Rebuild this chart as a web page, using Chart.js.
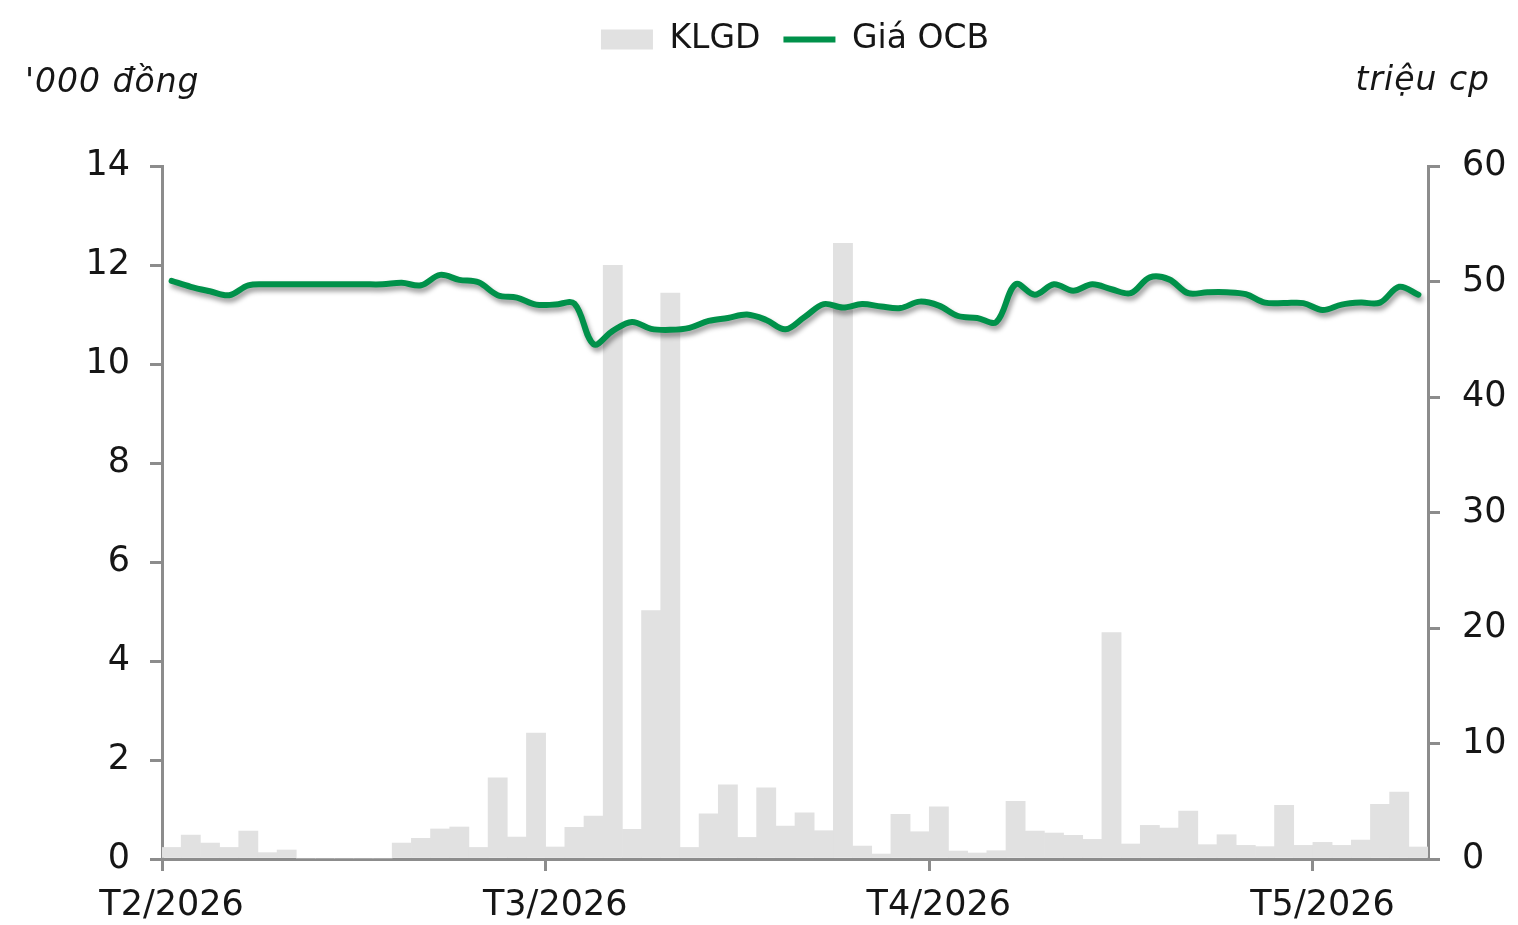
<!DOCTYPE html>
<html>
<head>
<meta charset="utf-8">
<script src="https://cdn.jsdelivr.net/npm/chart.js@4"></script>
<style>
  body { margin: 0; background: #fff; }
  #wrap { width: 1518px; height: 925px; }
</style>
</head>
<body>
<div id="wrap"><canvas id="ocbChart"></canvas></div>
<script>
// Month labels and how many trading sessions fall in each one
const monthLabels = ['T2/2026', 'T3/2026', 'T4/2026', 'T5/2026'];
const daysPerMonth = [20, 20, 20, 6];

// Trading volume, million shares (right axis)
const volume = [
    1.0, 2.07, 1.38, 1.0, 2.42, 0.55, 0.78, 0, 0, 0,
    0, 0, 1.38, 1.79, 2.6, 2.77, 1.0, 7.03, 1.9, 10.9,
    1.04, 2.74, 3.72, 51.4, 2.57, 21.5, 49.0, 1.0, 3.92, 6.43,
    1.87, 6.17, 2.85, 4.0, 2.45, 53.3, 1.12, 0.43, 3.86, 2.36,
    4.52, 0.69, 0.52, 0.72, 4.99, 2.42, 2.25, 2.05, 1.7, 19.6,
    1.3, 2.91, 2.68, 4.15, 1.24, 2.1, 1.18, 1.07, 4.64, 1.18,
    1.44, 1.18, 1.64, 4.73, 5.79, 1.04
];

// OCB close price, '000 VND (left axis)
const price = [
    11.68, 11.56, 11.47, 11.39, 11.59, 11.61, 11.61, 11.61, 11.61, 11.61,
    11.61, 11.61, 11.64, 11.59, 11.8, 11.7, 11.65, 11.39, 11.34, 11.2,
    11.2, 11.22, 10.4, 10.67, 10.85, 10.71, 10.69, 10.73, 10.87, 10.93,
    11.0, 10.89, 10.7, 10.95, 11.21, 11.14, 11.21, 11.16, 11.13, 11.26,
    11.18, 10.97, 10.93, 10.85, 11.61, 11.4, 11.61, 11.48, 11.61, 11.51,
    11.43, 11.75, 11.71, 11.43, 11.45, 11.45, 11.41, 11.24, 11.23, 11.23,
    11.09, 11.2, 11.24, 11.24, 11.56, 11.4
];

// One category per session, tagged with its month
const categories = [];
monthLabels.forEach((m, i) => {
    for (let d = 0; d < daysPerMonth[i]; d++) categories.push(m);
});

const isMonthStart = i => i === 0 || (i > 0 && i < categories.length && categories[i] !== categories[i - 1]);

const axisGrey = '#8c8c8c';
const textColor = '#161616';
const fontFamily = '"DejaVu Sans", sans-serif';

// Soft drop shadow under the price line
const lineShadow = {
    id: 'lineShadow',
    beforeDatasetDraw(chart, args) {
        if (args.meta.type !== 'line') return;
        const ctx = chart.ctx;
        ctx.save();
        ctx.shadowColor = 'rgba(0, 0, 0, 0.4)';
        ctx.shadowBlur = 5;
        ctx.shadowOffsetX = 2;
        ctx.shadowOffsetY = 4;
    },
    afterDatasetDraw(chart, args) {
        if (args.meta.type !== 'line') return;
        chart.ctx.restore();
    }
};

// Unit labels above each axis
const unitTitles = {
    id: 'unitTitles',
    afterDraw(chart) {
        const ctx = chart.ctx;
        ctx.save();
        ctx.font = 'italic 33px ' + fontFamily;
        ctx.letterSpacing = '1px';
        ctx.fillStyle = textColor;
        ctx.textBaseline = 'alphabetic';
        ctx.textAlign = 'left';
        ctx.fillText("'000 đồng", 25, 92);
        ctx.textAlign = 'right';
        ctx.fillText('triệu cp', 1490, 90);
        ctx.restore();
    }
};

const ctx = document.getElementById('ocbChart').getContext('2d');
const ocbChart = new Chart(ctx, {
    data: {
        labels: categories,
        datasets: [{
            type: 'bar',
            label: 'KLGD',
            data: volume,
            yAxisID: 'y1',
            backgroundColor: '#e1e1e1',
            borderWidth: 0,
            barPercentage: 1.0,
            categoryPercentage: 1.0,
            pointStyle: 'rect',
            order: 1
        }, {
            type: 'line',
            label: 'Giá OCB',
            data: price,
            yAxisID: 'y',
            borderColor: '#00914a',
            backgroundColor: '#00914a',
            borderWidth: 6,
            borderCapStyle: 'round',
            pointRadius: 0,
            pointStyle: 'line',
            tension: 0.35,
            order: 0
        }]
    },
    options: {
        responsive: true,
        maintainAspectRatio: false,
        animation: false,
        layout: { padding: 0 },
        plugins: {
            tooltip: { enabled: false },
            legend: {
                position: 'top',
                fullSize: false,
                labels: {
                    usePointStyle: true,
                    pointStyleWidth: 52,
                    boxHeight: 20,
                    padding: 23,
                    color: textColor,
                    font: { family: fontFamily, size: 33 },
                    sort: (a, b) => a.datasetIndex - b.datasetIndex
                }
            },
            // empty spacer between legend and plot
            subtitle: {
                display: true,
                text: '',
                weight: 500,
                fullSize: false,
                font: { size: 10 },
                padding: { top: 88, bottom: 0 }
            }
        },
        scales: {
            x: {
                type: 'category',
                offset: true,
                grid: {
                    offset: true,
                    drawOnChartArea: false,
                    tickLength: 12,
                    lineWidth: 3,
                    color: c => isMonthStart(c.index) ? axisGrey : 'rgba(0,0,0,0)'
                },
                border: { color: axisGrey, width: 3 },
                ticks: {
                    autoSkip: false,
                    maxRotation: 0,
                    padding: 14,
                    color: textColor,
                    font: { family: fontFamily, size: 35 },
                    callback: function (value, index) {
                        return isMonthStart(index) ? categories[index] : '';
                    }
                },
                afterFit: s => { s.height = 66; }
            },
            y: {
                position: 'left',
                min: 0,
                max: 14,
                grid: {
                    drawOnChartArea: false,
                    tickLength: 12,
                    lineWidth: 3,
                    color: axisGrey
                },
                border: { color: axisGrey, width: 3 },
                ticks: {
                    stepSize: 2,
                    padding: 20,
                    color: textColor,
                    font: { family: fontFamily, size: 35 }
                },
                afterFit: s => { s.width = 162; }
            },
            y1: {
                position: 'right',
                min: 0,
                max: 60,
                grid: {
                    drawOnChartArea: false,
                    tickLength: 12,
                    lineWidth: 3,
                    color: axisGrey
                },
                border: { color: axisGrey, width: 3 },
                ticks: {
                    stepSize: 10,
                    padding: 22,
                    color: textColor,
                    font: { family: fontFamily, size: 35 }
                },
                afterFit: s => { s.width = 90; }
            }
        }
    },
    plugins: [lineShadow, unitTitles]
});
</script>
</body>
</html>
